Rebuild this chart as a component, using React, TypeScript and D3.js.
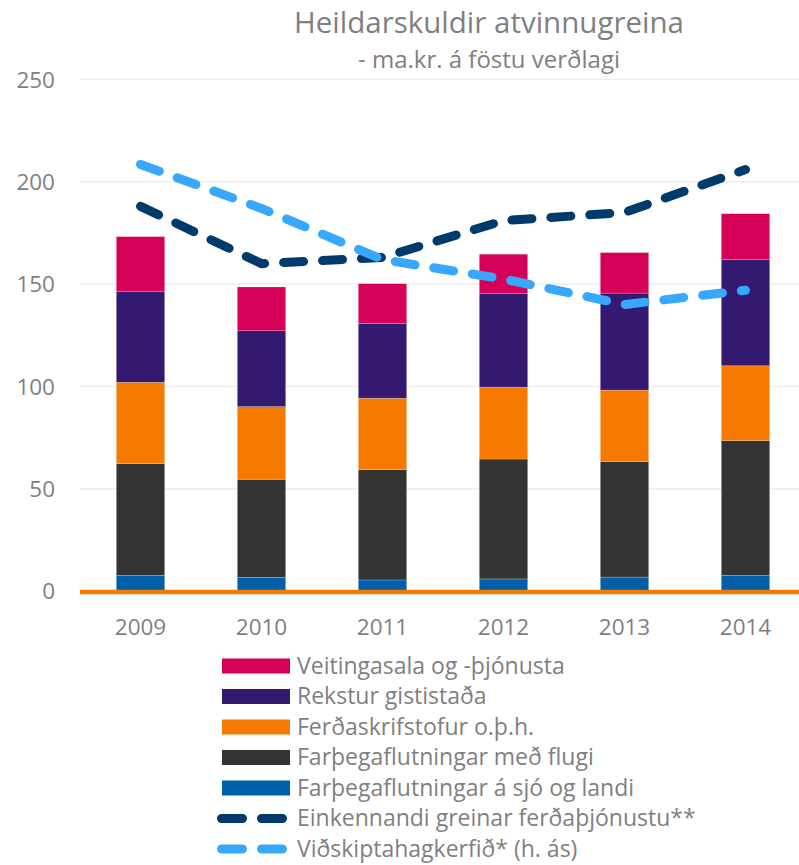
import React from 'react';
import * as d3 from 'd3';

const years = ['2009', '2010', '2011', '2012', '2013', '2014'];

// stacked bar series, bottom to top (ma.kr.)
const sjoOgLandi = [7.7, 6.7, 5.4, 5.9, 6.8, 7.7];
const flugi = [54.5, 47.9, 53.9, 58.6, 56.4, 65.8];
const ferdaskrifstofur = [39.8, 35.5, 34.9, 35.1, 35.0, 36.6];
const gististadir = [44.5, 37.1, 36.6, 45.7, 47.4, 51.8];
const veitingar = [26.7, 21.4, 19.4, 19.3, 19.8, 22.5];

// lines
const einkennandi = [188, 160, 163, 181, 185, 206];
// right axis is hidden, values read against the left axis
const vidskiptahagkerfid = [208.5, 187, 162, 152.5, 140, 147];

const yTicks = [0, 50, 100, 150, 200, 250];

const barSeries = [
  { key: 'sjo', label: 'Farþegaflutningar á sjó og landi', values: sjoOgLandi, color: '#005fa9' },
  { key: 'flug', label: 'Farþegaflutningar með flugi', values: flugi, color: '#333333' },
  { key: 'ferd', label: 'Ferðaskrifstofur o.þ.h.', values: ferdaskrifstofur, color: '#f77a00' },
  { key: 'gist', label: 'Rekstur gististaða', values: gististadir, color: '#331a70' },
  { key: 'veit', label: 'Veitingasala og -þjónusta', values: veitingar, color: '#d50058' },
];

const lineSeries = [
  { key: 'eink', label: 'Einkennandi greinar ferðaþjónustu**', values: einkennandi, color: '#003a6c' },
  { key: 'vidsk', label: 'Viðskiptahagkerfið* (h. ás)', values: vidskiptahagkerfid, color: '#38a8ff' },
];

const font = '"Open Sans", Lato, sans-serif';
const textColor = '#7f7f7f';

export default function App() {
  const width = 799;
  const height = 865;

  const x = d3.scaleBand().domain(years).range([80, 806]).paddingInner(0.6).paddingOuter(0.3);
  const y = d3.scaleLinear().domain([0, 250]).range([591, 79.5]);

  const table = years.map((yr, i) => {
    const row: any = { year: yr };
    barSeries.forEach(s => (row[s.key] = s.values[i]));
    return row;
  });
  const stacked = d3.stack().keys(barSeries.map(s => s.key))(table);

  const cx = (yr: string) => (x(yr) as number) + x.bandwidth() / 2;
  const line = d3.line<number>()
    .x((_, i) => cx(years[i]))
    .y(d => y(d));

  const legendRows = [...barSeries].reverse().map(s => ({ ...s, type: 'bar' }))
    .concat(lineSeries.map(s => ({ ...s, type: 'line' })));

  return (
    <svg width={width} height={height} style={{ position: 'absolute', left: 0, top: 0, background: '#fff' }}
      fontFamily={font}>
      <text x={489} y={33} textAnchor="middle" fontSize={29.5} fill={textColor}>Heildarskuldir atvinnugreina</text>
      <text x={489} y={68} textAnchor="middle" fontSize={24} fill={textColor}>- ma.kr. á föstu verðlagi</text>

      {yTicks.map(t => (
        <g key={t}>
          {t > 0 && <line x1={80} x2={width} y1={y(t)} y2={y(t)} stroke="#eeeeee" strokeWidth={1.5} />}
          <text x={55} y={y(t)} dy="0.36em" textAnchor="end" fontSize={22.5} fill={textColor}>{t}</text>
        </g>
      ))}

      {stacked.map((layer, li) => (
        <g key={layer.key} fill={barSeries[li].color}>
          {layer.map((d, i) => (
            <rect key={i} x={x(years[i])} width={x.bandwidth()} y={y(d[1])} height={y(d[0]) - y(d[1])}
              stroke="#ffffff" strokeOpacity={0.35} strokeWidth={0.6} />
          ))}
        </g>
      ))}

      <line x1={80} x2={width} y1={592} y2={592} stroke="#f77a00" strokeWidth={4.5} />

      {years.map(yr => (
        <text key={yr} x={cx(yr)} y={635} textAnchor="middle" fontSize={22.5} fill={textColor}>{yr}</text>
      ))}

      {lineSeries.map(s => (
        <path key={s.key} d={line(s.values) || ''} fill="none" stroke={s.color} strokeWidth={9}
          strokeLinecap="round" strokeLinejoin="round" strokeDasharray="20,19" />
      ))}

      {legendRows.map((r, i) => {
        const ry = 666 + i * 30.5;
        return (
          <g key={r.key}>
            {r.type === 'bar'
              ? <rect x={222} y={ry - 7.5} width={68} height={15} fill={r.color} />
              : <line x1={221.5} x2={282.5} y1={ry} y2={ry} stroke={r.color} strokeWidth={9}
                  strokeLinecap="round" strokeDasharray="21,19" />}
            <text x={297} y={ry} dy="0.33em" fontSize={23} fill={textColor}>{r.label}</text>
          </g>
        );
      })}
    </svg>
  );
}
